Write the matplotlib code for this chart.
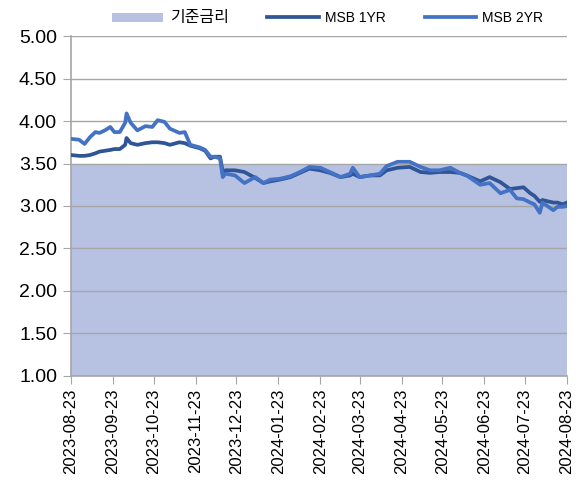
import matplotlib
matplotlib.use("Agg")
import matplotlib.pyplot as plt
import pandas as pd

plt.rcParams['font.family'] = ['Liberation Sans', 'Noto Sans CJK KR', 'DejaVu Sans']

dates = ["2023-08-23", "2023-08-29", "2023-09-02", "2023-09-06", "2023-09-10", "2023-09-13",
         "2023-09-17", "2023-09-21", "2023-09-24", "2023-09-28", "2023-10-02", "2023-10-03",
         "2023-10-06", "2023-10-11", "2023-10-17", "2023-10-22", "2023-10-26", "2023-10-31",
         "2023-11-04", "2023-11-11", "2023-11-15", "2023-11-19", "2023-11-26", "2023-11-30",
         "2023-12-04", "2023-12-07", "2023-12-11", "2023-12-13", "2023-12-15", "2023-12-22",
         "2023-12-29", "2024-01-06", "2024-01-12", "2024-01-17", "2024-01-24", "2024-02-01",
         "2024-02-08", "2024-02-15", "2024-02-23", "2024-03-01", "2024-03-09", "2024-03-16",
         "2024-03-18", "2024-03-23", "2024-03-31", "2024-04-07", "2024-04-12", "2024-04-20",
         "2024-04-29", "2024-05-07", "2024-05-14", "2024-05-21", "2024-05-29", "2024-06-05",
         "2024-06-10", "2024-06-20", "2024-06-27", "2024-07-05", "2024-07-12", "2024-07-17",
         "2024-07-22", "2024-07-27", "2024-07-30", "2024-08-03", "2024-08-05", "2024-08-13",
         "2024-08-16", "2024-08-20", "2024-08-23"]

msb_1yr = [3.60, 3.59, 3.59, 3.60, 3.62, 3.64, 3.65, 3.66, 3.67, 3.67, 3.72, 3.80,
           3.74, 3.72, 3.74, 3.75, 3.75, 3.74, 3.72, 3.75, 3.74, 3.71, 3.68, 3.65,
           3.56, 3.58, 3.58, 3.40, 3.42, 3.42, 3.40, 3.33, 3.27, 3.29, 3.31, 3.34,
           3.39, 3.44, 3.42, 3.39, 3.34, 3.36, 3.38, 3.34, 3.36, 3.36, 3.42, 3.45,
           3.46, 3.40, 3.39, 3.40, 3.40, 3.39, 3.36, 3.29, 3.34, 3.28, 3.20, 3.21,
           3.22, 3.15, 3.12, 3.05, 3.07, 3.04, 3.04, 3.02, 3.04]

msb_2yr = [3.79, 3.78, 3.73, 3.81, 3.87, 3.86, 3.89, 3.93, 3.87, 3.87, 3.98, 4.09,
           3.98, 3.89, 3.94, 3.93, 4.01, 3.99, 3.91, 3.86, 3.87, 3.72, 3.69, 3.66,
           3.58, 3.58, 3.56, 3.34, 3.38, 3.36, 3.27, 3.34, 3.27, 3.31, 3.32, 3.35,
           3.40, 3.46, 3.45, 3.40, 3.34, 3.38, 3.45, 3.34, 3.36, 3.38, 3.47, 3.52,
           3.52, 3.46, 3.42, 3.42, 3.45, 3.39, 3.36, 3.25, 3.27, 3.15, 3.19, 3.09,
           3.08, 3.04, 3.02, 2.92, 3.04, 2.95, 2.99, 2.99, 3.00]

base_rate = [3.50] * len(dates)

tick_dates = ["2023-08-23", "2023-09-23", "2023-10-23", "2023-11-23", "2023-12-23",
              "2024-01-23", "2024-02-23", "2024-03-23", "2024-04-23", "2024-05-23",
              "2024-06-23", "2024-07-23", "2024-08-23"]

x = pd.to_datetime(dates)
ticks = pd.to_datetime(tick_dates)

fig = plt.figure(figsize=(5.82, 4.94), dpi=100)
ax = fig.add_axes([0.122, 0.239, 0.852, 0.688])

ax.fill_between(x, base_rate, 1.0, color='#b7c2e3', linewidth=0, label='기준금리', zorder=2)
ax.plot(x, msb_1yr, color='#2f5597', lw=2.7, label='MSB 1YR', zorder=3, solid_joinstyle='round')
ax.plot(x, msb_2yr, color='#4472c4', lw=2.7, label='MSB 2YR', zorder=4, solid_joinstyle='round')

ax.set_ylim(1.0, 5.0)
ax.set_yticks([1.0 + 0.5 * i for i in range(9)])
ax.yaxis.set_major_formatter(matplotlib.ticker.FormatStrFormatter('%.2f'))
ax.set_xlim(ticks[0], ticks[-1])
ax.set_xticks(ticks)
ax.set_xticklabels(tick_dates, rotation=90, fontsize=12)
ax.tick_params(axis='y', labelsize=14, length=6, color='#a6a6a6', pad=4)
ax.tick_params(axis='x', length=6, color='#a6a6a6', pad=3)

ax.grid(axis='y', color='#a6a6a6', lw=1.0, zorder=5)
ax.set_axisbelow(False)
for s in ['top', 'right']:
    ax.spines[s].set_visible(False)
for s in ['left', 'bottom']:
    ax.spines[s].set_color('#a6a6a6')
    ax.spines[s].set_linewidth(1.2)

leg = fig.legend(loc='center', bbox_to_anchor=(0.563, 0.964), ncol=3, frameon=False,
                 fontsize=10, handlelength=3.7, columnspacing=2.8, handletextpad=0.45)
leg.get_texts()[0].set_fontsize(11.5)

fig.savefig('out.png', dpi=100)
